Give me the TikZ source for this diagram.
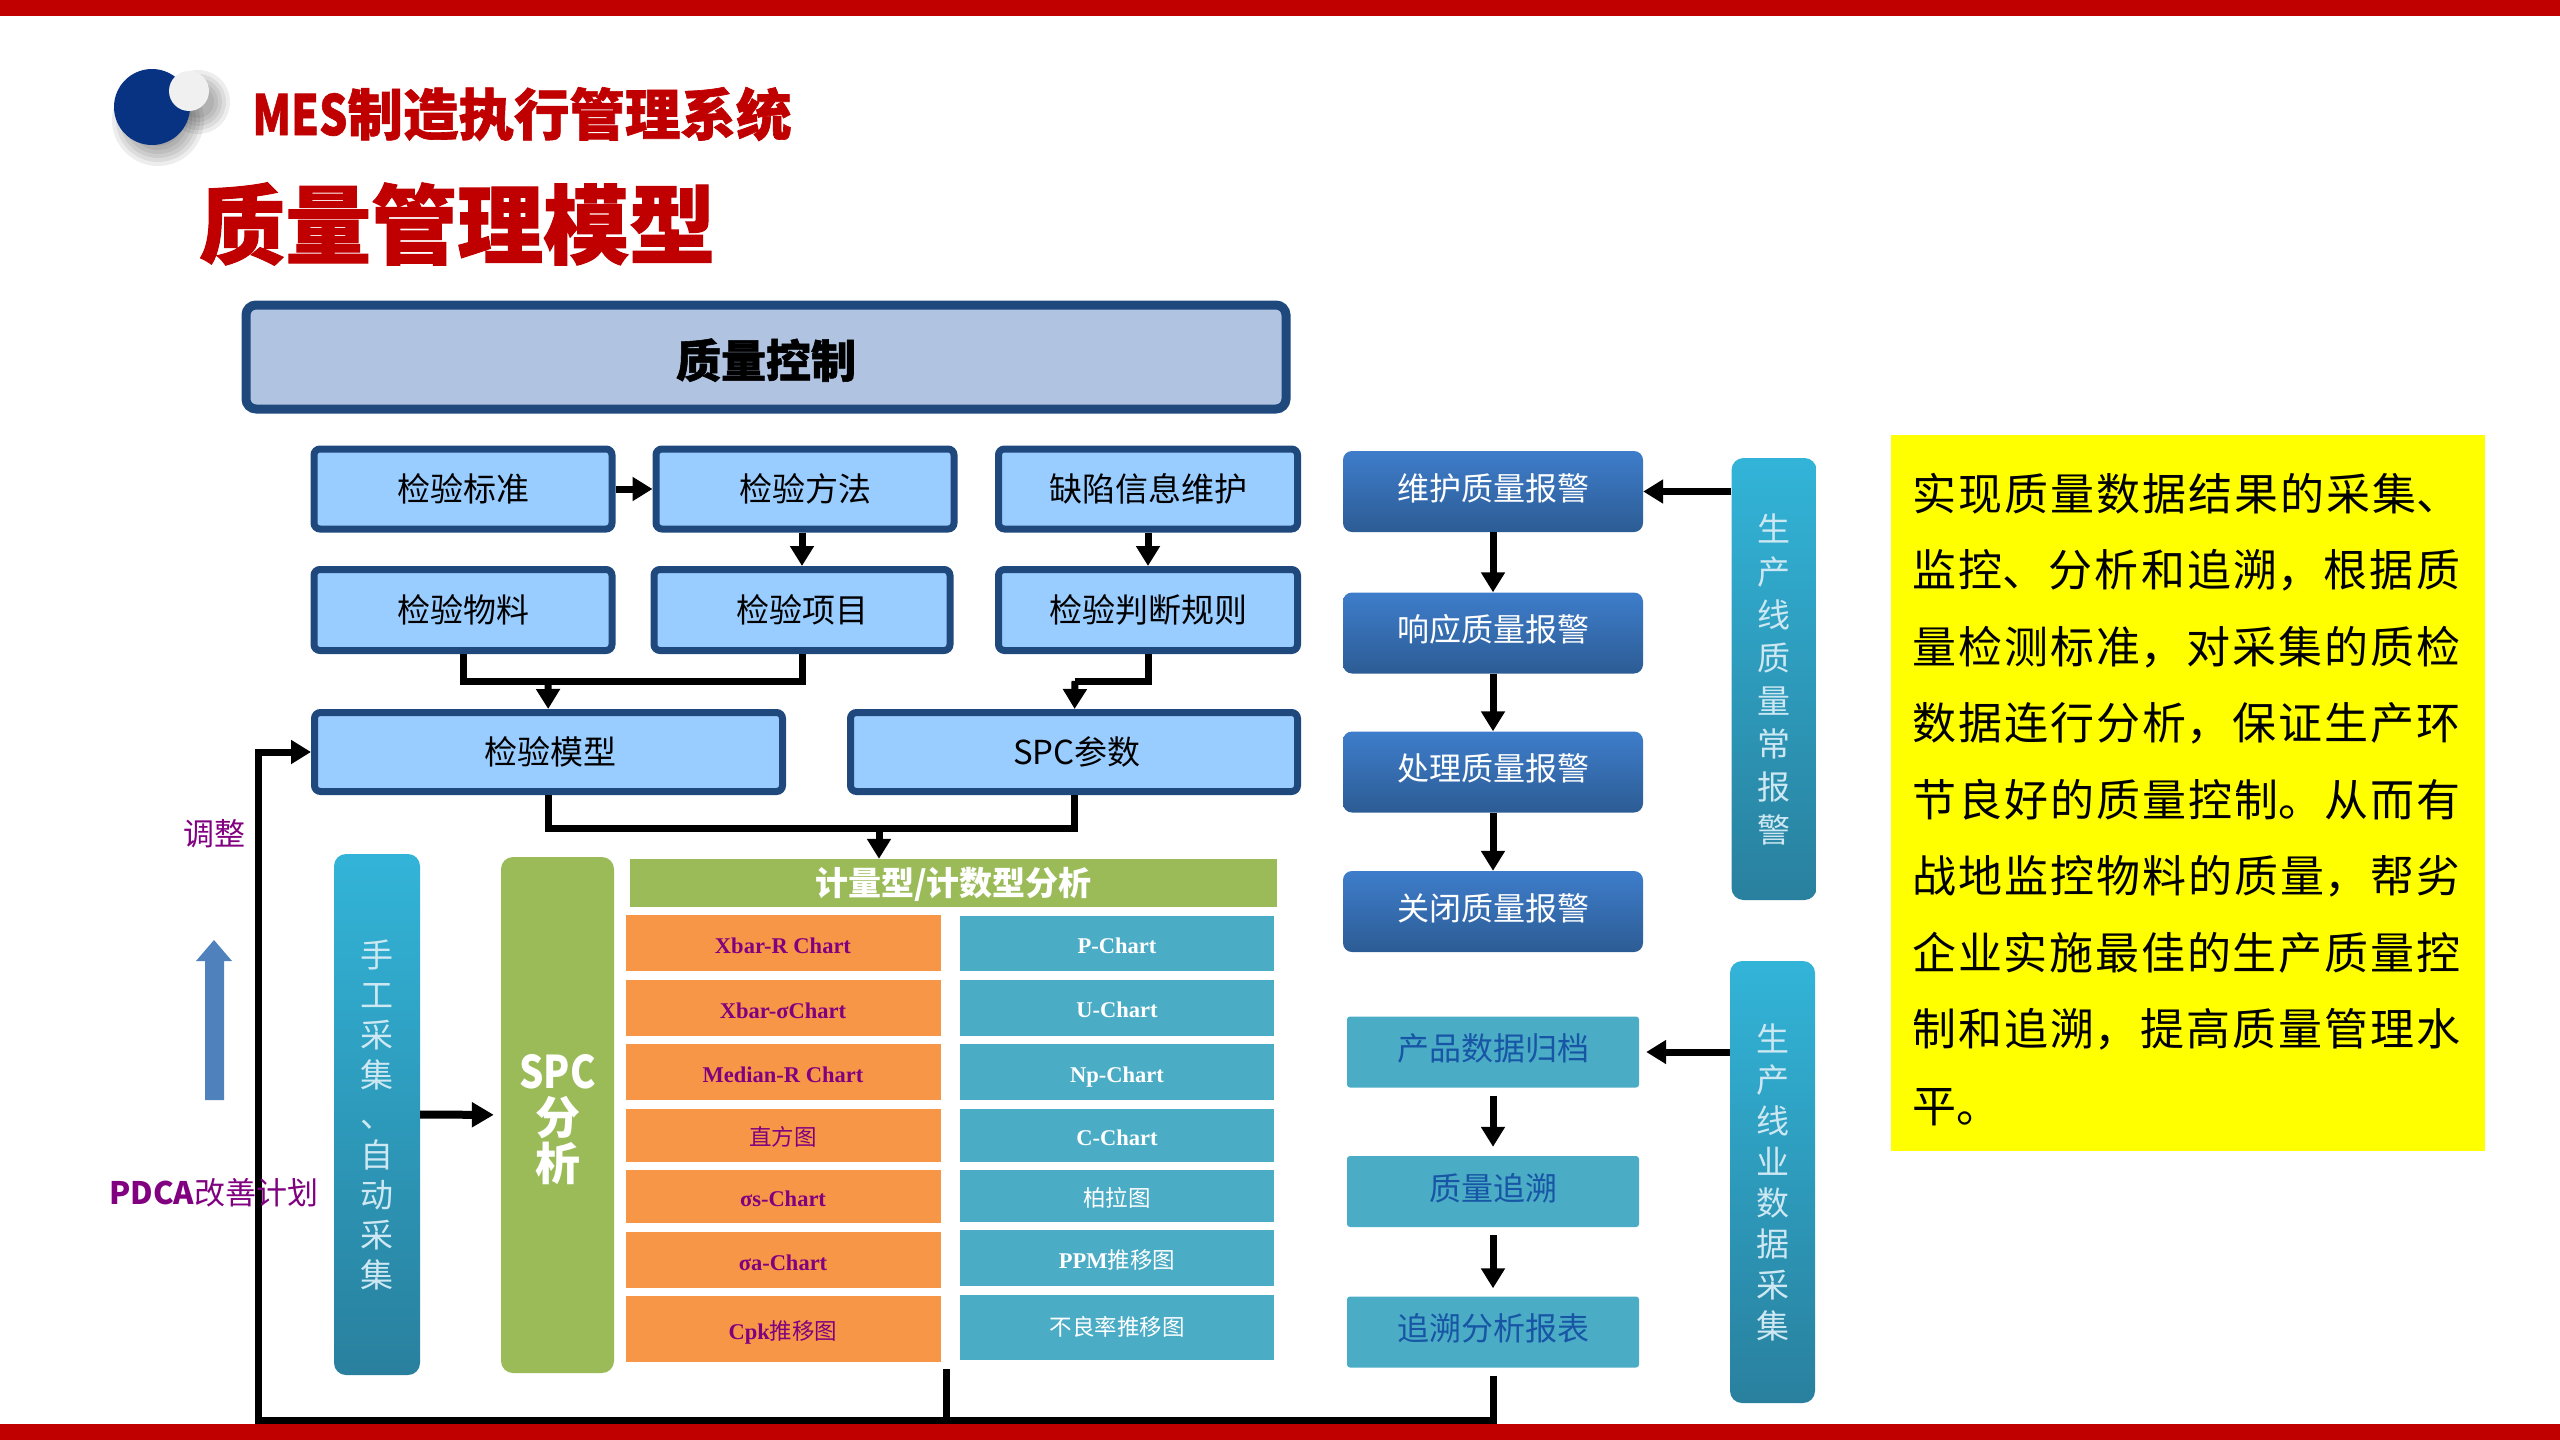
\documentclass[tikz,border=0pt]{standalone}
\usepackage{fontspec}
\usetikzlibrary{arrows.meta}
\setmainfont{Noto Sans CJK SC}
\newfontfamily\chartfont{Liberation Serif}
\newfontfamily\heavyfont[BoldFeatures={FakeBold=1.2}]{Noto Sans CJK SC}
\XeTeXlinebreaklocale "zh"
\XeTeXlinebreakskip=0pt plus 3pt
\definecolor{BarRed}{RGB}{192,0,0}
\definecolor{BallBlue}{RGB}{8,50,130}
\definecolor{BallWhite}{RGB}{240,240,240}
\definecolor{BoxEdge}{RGB}{31,73,125}
\definecolor{CtrlFill}{RGB}{176,196,226}
\definecolor{SkyFill}{RGB}{153,204,255}
\definecolor{AlarmTop}{RGB}{62,125,203}
\definecolor{AlarmBot}{RGB}{44,92,148}
\definecolor{TealTop}{RGB}{50,180,216}
\definecolor{TealBot}{RGB}{41,128,158}
\definecolor{TealFill}{RGB}{75,172,198}
\definecolor{LeafFill}{RGB}{155,187,89}
\definecolor{OrangeFill}{RGB}{247,150,70}
\definecolor{PlumText}{RGB}{128,0,128}
\definecolor{NavyText}{RGB}{23,85,165}
\definecolor{PaleText}{RGB}{205,232,242}
\definecolor{UpBlue}{RGB}{79,129,189}
\definecolor{NoteYellow}{RGB}{255,255,0}
\tikzset{
    flowline/.style={line width=7pt,-{Triangle[length=20pt,width=23pt]}},
    plainline/.style={line width=7pt},
    skybox/.style={draw=BoxEdge,fill=SkyFill,line width=7pt,rounded corners=6pt,font=\fontsize{33}{36}\selectfont},
    alarmbox/.style={top color=AlarmTop,bottom color=AlarmBot,rounded corners=9pt,minimum width=300pt,minimum height=81pt,text=white,text height=24pt,text depth=7pt,font=\fontsize{32}{36}\selectfont},
    tracebox/.style={fill=TealFill,rounded corners=3pt,minimum width=292pt,minimum height=71pt,text=NavyText,text height=24pt,text depth=7pt,font=\fontsize{32}{36}\selectfont},
    sidebar/.style={top color=TealTop,bottom color=TealBot,rounded corners=12pt,inner sep=0pt,text=PaleText,align=center},
    orangecell/.style={fill=OrangeFill,minimum width=315pt,text=PlumText,text height=20pt,text depth=0pt,font=\bfseries\chartfont\fontsize{22.5}{26}\selectfont},
    tealcell/.style={fill=TealFill,minimum width=314pt,text=white,text height=20pt,text depth=0pt,font=\bfseries\chartfont\fontsize{22.5}{26}\selectfont},
}
\begin{document}
\begin{tikzpicture}[x=1pt,y=-1pt]
    \useasboundingbox (0,0) rectangle (2560,1440);
    \fill[BarRed] (0,0) rectangle (2560,16);
    \fill[BarRed] (0,1424) rectangle (2560,1440);

    \foreach \r in {46,42,38,34,30,26}
        \fill[black,opacity=.07] (158,120) circle (\r);
    \foreach \r in {32,28,24,20,16}
        \fill[black,opacity=.07] (198,102) circle (\r);
    \fill[BallBlue] (152,107) circle (38);
    \fill[BallWhite] (189,91) circle (20);

    \node[text=BarRed,font=\heavyfont\bfseries\fontsize{55.5}{60}\selectfont,anchor=west,inner sep=0pt] (subtitle) at (252,114) {\scalebox{.8}[1]{MES}制造执行管理系统};
    \node[text=BarRed,font=\heavyfont\bfseries\fontsize{86}{90}\selectfont,anchor=west,inner sep=0pt] (title) at (199,224) {质量管理模型};

    \node[draw=BoxEdge,fill=CtrlFill,line width=9pt,rounded corners=10pt,minimum width=1040pt,minimum height=104pt,text height=49pt,text depth=8pt,font=\heavyfont\bfseries\fontsize{45}{50}\selectfont] (ctrl) at (766,357) {质量控制};

    \node[skybox,minimum width=298pt,minimum height=80pt] (std) at (463,489) {检验标准};
    \node[skybox,minimum width=298pt,minimum height=80pt] (method) at (805,489) {检验方法};
    \node[skybox,minimum width=299pt,minimum height=80pt] (defect) at (1148,489) {缺陷信息维护};
    \node[skybox,minimum width=298pt,minimum height=81pt] (material) at (463,610) {检验物料};
    \node[skybox,minimum width=296pt,minimum height=81pt] (item) at (802,610) {检验项目};
    \node[skybox,minimum width=299pt,minimum height=81pt] (rule) at (1148,610) {检验判断规则};
    \node[skybox,minimum width=468pt,minimum height=79pt] (model) at (548.5,752) {\hspace{3pt}检验模型};
    \node[skybox,minimum width=447pt,minimum height=79pt] (param) at (1074,752) {\hspace{6pt}SPC参数};

    \draw[flowline] (std) -- (method);
    \draw[flowline] (method.south-|item) -- (item);
    \draw[flowline] (defect) -- (rule);
    \coordinate (joinA) at (548,681);
    \coordinate (joinB) at (1075,681);
    \coordinate (joinC) at (879,828);
    \draw[plainline] (material.south) |- (joinA) -| (item.south);
    \draw[flowline] (joinA) -- (model);
    \draw[plainline] (rule.south) |- (joinB);
    \draw[flowline] (joinB) -- (param);
    \draw[plainline] (model.south) |- (joinC) -| (param.south);

    \node[sidebar,minimum width=86pt,minimum height=521pt,font=\fontsize{33}{40}\selectfont] (manual) at (377,1114.5) {手\\工\\采\\集\\、\\自\\动\\采\\集};
    \node[fill=LeafFill,rounded corners=12pt,minimum width=113pt,minimum height=516pt,text=white,inner sep=0pt,align=center,font=\bfseries\fontsize{45}{46}\selectfont] (spc) at (557.5,1115) {\rule{0pt}{44pt}\scalebox{.85}[1]{SPC}\\分\\析};
    \node[fill=LeafFill,minimum width=647pt,minimum height=48pt,inner sep=0pt,text=white,text height=29pt,text depth=4pt,font=\bfseries\fontsize{33}{36}\selectfont] (kind) at (953.5,883) {计量型/计数型分析};
    \draw[flowline] (joinC) -- (kind.north-|joinC);
    \draw[line width=8pt,-{Triangle[length=22pt,width=24pt]},shorten >=7pt] (manual) -- (spc);

    \node[orangecell,minimum height=56pt] (xr) at (783,943) {Xbar-R Chart};
    \node[orangecell,minimum height=56pt] (xs) at (783,1008) {Xbar-σChart};
    \node[orangecell,minimum height=56pt] (med) at (783,1072) {Median-R Chart};
    \node[orangecell,minimum height=53pt] (hist) at (783,1135) {{\normalfont\fontsize{22.5}{26}\selectfont 直方图}};
    \node[orangecell,minimum height=53pt] (sig) at (783,1196.5) {σs-Chart};
    \node[orangecell,minimum height=56pt] (sga) at (783,1260) {σa-Chart};
    \node[orangecell,minimum height=66pt] (cpk) at (783,1329) {Cpk{\normalfont\fontsize{22.5}{26}\selectfont 推移图}};

    \node[tealcell,minimum height=55pt] (pc) at (1117,943) {P-Chart};
    \node[tealcell,minimum height=56pt] (uc) at (1117,1007.5) {U-Chart};
    \node[tealcell,minimum height=56pt] (npc) at (1117,1072) {Np-Chart};
    \node[tealcell,minimum height=53pt] (cc) at (1117,1135) {C-Chart};
    \node[tealcell,minimum height=52pt] (pareto) at (1117,1196) {{\normalfont\fontsize{22.5}{26}\selectfont 柏拉图}};
    \node[tealcell,minimum height=56pt] (ppm) at (1117,1258) {PPM{\normalfont\fontsize{22.5}{26}\selectfont 推移图}};
    \node[tealcell,minimum height=65pt,text height=16pt] (bad) at (1117,1327.5) {{\normalfont\fontsize{22.5}{26}\selectfont 不良率推移图}};

    \node[alarmbox] (keep) at (1493,491.5) {维护质量报警};
    \node[alarmbox] (reply) at (1493,633) {响应质量报警};
    \node[alarmbox] (handle) at (1493,772) {处理质量报警};
    \node[alarmbox] (shut) at (1493,911.5) {关闭质量报警};
    \draw[flowline] (keep) -- (reply);
    \draw[flowline] (reply) -- (handle);
    \draw[flowline] (handle) -- (shut);

    \node[sidebar,minimum width=85pt,minimum height=442pt,font=\fontsize{33}{43}\selectfont] (linealarm) at (1774,679) {生\\产\\线\\质\\量\\常\\报\\警};
    \draw[flowline] (linealarm.west|-keep) -- (keep);

    \node[tracebox] (archive) at (1493,1052) {产品数据归档};
    \node[tracebox] (trace) at (1493,1191.5) {质量追溯};
    \node[tracebox] (report) at (1493,1332) {追溯分析报表};
    \draw[flowline,shorten <=8pt,shorten >=9pt] (archive) -- (trace);
    \draw[flowline,shorten <=8pt,shorten >=8pt] (trace) -- (report);

    \node[sidebar,minimum width=85pt,minimum height=442pt,font=\fontsize{33}{41}\selectfont] (linedata) at (1772.5,1182) {生\\产\\线\\业\\数\\据\\采\\集};
    \draw[flowline,shorten >=7pt] (linedata.west|-archive) -- (archive);

    \coordinate (loopA) at (258,1420);
    \coordinate (loopB) at (1493,1420);
    \coordinate (loopC) at (946,1420);
    \coordinate (loopD) at (946,1369);
    \draw[flowline,shorten <=8pt] (report.south) -- (loopB) -- (loopA) |- (model.west);
    \draw[plainline] (loopD) -- (loopC);

    \fill[UpBlue] (205,1100) -- (205,961) -- (196,961) -- (214,940) -- (232,961) -- (224,961) -- (224,1100) -- cycle;
    \node[text=PlumText,font=\fontsize{31}{34}\selectfont,inner sep=0pt] (adjust) at (214,834) {调整};
    \node[text=PlumText,font=\fontsize{31}{34}\selectfont,inner sep=0pt] (pdca) at (214,1193) {\textbf{PDCA}改善计划};

    \node[fill=NoteYellow,minimum width=594pt,minimum height=716pt] (note) at (2187.5,792.5) {};
    \node[text width=548pt,align=justify,inner sep=0pt,anchor=north west,font=\fontsize{44}{76.5}\selectfont] (notetext) at (1912,473) {实现质量数据结果的采集、监控、分析和追溯，根据质量检测标准，对采集的质检数据连行分析，保证生产环节良好的质量控制。从而有战地监控物料的质量，帮劣企业实施最佳的生产质量控制和追溯，提高质量管理水平。};
\end{tikzpicture}
\end{document}
